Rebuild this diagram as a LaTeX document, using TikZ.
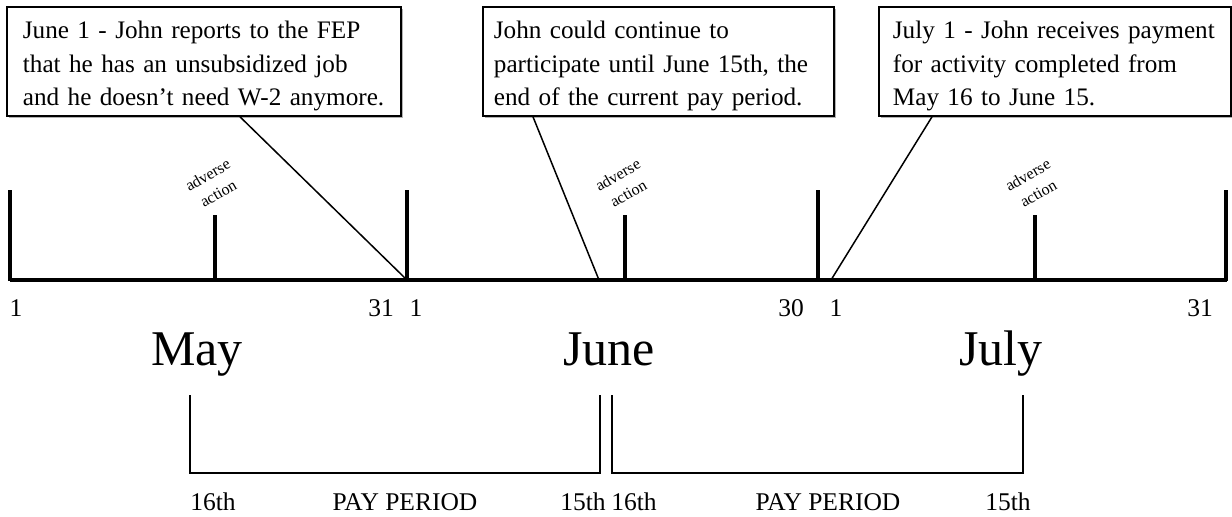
\documentclass[tikz,border=0pt]{standalone}
\usepackage{fontspec}
\setmainfont{Liberation Serif}
\usetikzlibrary{shadows}
\newcommand{\topstrut}{\rule{0pt}{14pt}}
\newcommand{\botstrut}{\rule[-3pt]{0pt}{3pt}}
\begin{document}
\begin{tikzpicture}[x=0.5pt,y=-0.5pt,
  note/.style={draw, line width=0.9pt, fill=white, anchor=north west, align=left,
    font=\fontsize{12.6}{16.75}\selectfont, inner ysep=0pt,
    minimum height=54.5pt,
    drop shadow={shadow xshift=0.8pt, shadow yshift=-0.8pt, fill=gray!60, opacity=1}},
  day/.style={font=\fontsize{12.75}{15}\selectfont, inner sep=0pt},
  month/.style={font=\fontsize{25}{30}\selectfont, anchor=base, inner sep=0pt},
  adverse/.style={font=\fontsize{8}{10.5}\selectfont, align=center, rotate=30, inner sep=0pt},
  axis/.style={line width=2pt},
  callout/.style={line width=0.75pt},
  period/.style={line width=0.6pt}]
\useasboundingbox (0,0) rectangle (1232,516);

% text boxes
\node (may) [note, text width=181pt, inner xsep=8pt] at (6,6)
  {\topstrut June 1 - John reports to the FEP\\that he has an unsubsidized job\\and he doesn't need W-2 anymore.\botstrut};
\node (june) [note, text width=164.5pt, inner xsep=5.5pt] at (482,6)
  {\topstrut John could continue to\\participate until June 15th, the\\end of the current pay period.\botstrut};
\node (july) [note, text width=162pt, inner xsep=7pt] at (878,6)
  {\topstrut July 1 - John receives payment\\for activity completed from\\May 16 to June 15.\botstrut};

% time line
\coordinate (jun1) at (407,280);
\coordinate (jun15) at (599,280);
\coordinate (jul1) at (831,280);
\draw[axis] (10,280) -- (1227,280);
\draw[axis]
(10,190) to (10,281)
(407,190) to (407,281)
(818,190) to (818,281)
(1226,190) to (1226,281)
(215,215) to (215,281)
(625,215) to (625,281)
(1035,215) to (1035,281);

\node[adverse] (adv1) at (213,184) {adverse\\action};
\node[adverse] (adv2) at (623,184) {adverse\\action};
\node[adverse] (adv3) at (1033,184) {adverse\\action};

\draw[callout]
([xshift=117pt]may.south west) to (jun1)
([xshift=25.5pt]june.south west) to (jun15)
([xshift=27pt]july.south west) to (jul1);

% days
\node[day] (d1) at (16,308) {1};
\node[day] (d2) at (381,308) {31};
\node[day] (d3) at (416,308) {1};
\node[day] (d4) at (791,308) {30};
\node[day] (d5) at (836,308) {1};
\node[day] (d6) at (1200,308) {31};

% months
\node[month] (mmay) at (197,365) {May};
\node[month] (mjune) at (609,365) {June};
\node[month] (mjuly) at (1001,365) {July};

% pay periods
\draw[period] (190,395) -- (190,473) -- (600,473) -- (600,395);
\draw[period] (612,395) -- (612,473) -- (1023,473) -- (1023,395);
\node[day] (p1) at (213,502) {16th};
\node[day] (p2) at (405,502) {PAY PERIOD};
\node[day] (p3) at (583,502) {15th};
\node[day] (p4) at (634,502) {16th};
\node[day] (p5) at (828,502) {PAY PERIOD};
\node[day] (p6) at (1008,502) {15th};
\end{tikzpicture}
\end{document}
